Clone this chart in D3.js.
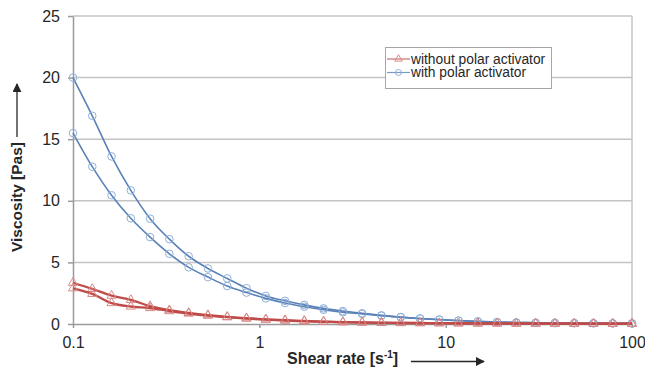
<!DOCTYPE html>
<html>
<head>
<meta charset="utf-8">
<script src="https://cdn.jsdelivr.net/npm/d3@7"></script>
<style>
  html, body { margin: 0; padding: 0; background: #fff; }
  svg { display: block; font-family: "Liberation Sans", Arial, sans-serif; }
</style>
</head>
<body>
<svg id="chart" width="645" height="369"></svg>
<script>
// ---- data ----
const shearRate = [0.1, 0.1269, 0.161, 0.2043, 0.2593, 0.329, 0.4175, 0.5298, 0.6723, 0.8532,
  1.083, 1.374, 1.743, 2.212, 2.807, 3.562, 4.521, 5.737, 7.28, 9.238,
  11.72, 14.88, 18.88, 23.95, 30.4, 38.57, 48.95, 62.12, 78.83, 100];

const withActivatorUp = [20.0, 16.9, 13.6, 10.85, 8.55, 6.89, 5.5, 4.51, 3.7, 2.91,
  2.28, 1.88, 1.55, 1.27, 1.05, 0.87, 0.7, 0.56, 0.45, 0.36,
  0.28, 0.21, 0.16, 0.12, 0.1, 0.08, 0.07, 0.06, 0.05, 0.05];
const withActivatorDown = [15.5, 12.77, 10.45, 8.58, 7.05, 5.7, 4.6, 3.81, 3.08, 2.55,
  2.08, 1.7, 1.4, 1.15, 0.95, 0.82, 0.67, 0.55, 0.44, 0.35,
  0.27, 0.2, 0.15, 0.12, 0.1, 0.08, 0.07, 0.06, 0.05, 0.05];

const withoutActivatorUp = [3.35, 2.85, 2.3, 1.95, 1.45, 1.12, 0.9, 0.72, 0.58, 0.47,
  0.38, 0.31, 0.25, 0.2, 0.16, 0.13, 0.11, 0.09, 0.08, 0.07,
  0.06, 0.05, 0.05, 0.04, 0.04, 0.03, 0.03, 0.03, 0.02, 0.02];
const withoutActivatorDown = [2.9, 2.45, 1.7, 1.42, 1.3, 1.05, 0.85, 0.68, 0.55, 0.44,
  0.35, 0.28, 0.22, 0.18, 0.14, 0.11, 0.09, 0.08, 0.07, 0.06,
  0.05, 0.04, 0.04, 0.03, 0.03, 0.03, 0.02, 0.02, 0.02, 0.02];

const xTicks = [0.1, 1, 10, 100];
const xTickLabels = ["0.1", "1", "10", "100"];
const yTicks = [0, 5, 10, 15, 20, 25];
const legendLabels = ["without polar activator", "with polar activator"];

// ---- layout ----
const svg = d3.select("#chart");
const pLeft = 73, pRight = 632, pTop = 16, pBottom = 324;
const x = d3.scaleLog().domain([0.1, 100]).range([pLeft, pRight]);
const y = d3.scaleLinear().domain([0, 25]).range([pBottom, pTop]);

const gridColor = "#c4c4c4";
const axisColor = "#9a9a9a";
const textColor = "#262626";
const blueLine = "#5a82b8", blueMark = "#8fb0d8";
const redLine = "#bf4b48", redMark = "#d98a88";

// gridlines
svg.append("g").selectAll("line").data(yTicks.filter(d => d > 0)).join("line")
  .attr("x1", pLeft).attr("x2", pRight)
  .attr("y1", d => y(d)).attr("y2", d => y(d))
  .attr("stroke", gridColor).attr("stroke-width", 1.5);
// right border
svg.append("line").attr("x1", pRight).attr("x2", pRight).attr("y1", pTop).attr("y2", pBottom)
  .attr("stroke", gridColor).attr("stroke-width", 1.5);

// axes
const yAxis = d3.axisLeft(y).tickValues(yTicks).tickSize(5).tickPadding(8).tickSizeOuter(0);
const gy = svg.append("g").attr("transform", `translate(${pLeft},0)`).call(yAxis);
const xAxis = d3.axisBottom(x).tickValues(xTicks).tickSize(4).tickPadding(9).tickSizeOuter(0)
  .tickFormat((d, i) => xTickLabels[i]);
const gx = svg.append("g").attr("transform", `translate(0,${pBottom})`).call(xAxis);
[gx, gy].forEach(g => {
  g.select(".domain").attr("stroke", axisColor).attr("stroke-width", 1.5);
  g.selectAll(".tick line").attr("stroke", axisColor).attr("stroke-width", 1.5);
  g.selectAll(".tick text").attr("fill", textColor).attr("font-size", 16)
    .attr("font-family", "Liberation Sans, Arial, sans-serif");
});

// series
const line = d3.line().x(d => x(d[0])).y(d => y(d[1])).curve(d3.curveMonotoneX);
const series = [
  { vals: withActivatorUp, color: blueLine, mark: blueMark, sym: "circle", w: 1.6 },
  { vals: withActivatorDown, color: blueLine, mark: blueMark, sym: "circle", w: 1.6 },
  { vals: withoutActivatorUp, color: redLine, mark: redMark, sym: "triangle", w: 2.3 },
  { vals: withoutActivatorDown, color: redLine, mark: redMark, sym: "triangle", w: 2.3 }
];
const triangle = d3.symbol().type(d3.symbolTriangle).size(36);
series.forEach(s => {
  const pts = shearRate.map((r, i) => [r, s.vals[i]]);
  svg.append("path").datum(pts).attr("d", line)
    .attr("fill", "none").attr("stroke", s.color).attr("stroke-width", s.w);
  const g = svg.append("g");
  if (s.sym === "circle") {
    g.selectAll("circle").data(pts).join("circle")
      .attr("cx", d => x(d[0])).attr("cy", d => y(d[1])).attr("r", 3.8)
      .attr("fill", "none").attr("stroke", s.mark).attr("stroke-width", 1);
  } else {
    g.selectAll("path").data(pts).join("path")
      .attr("d", triangle)
      .attr("transform", d => `translate(${x(d[0])},${y(d[1])})`)
      .attr("fill", "none").attr("stroke", s.mark).attr("stroke-width", 1);
  }
});

// legend
const lg = svg.append("g");
lg.append("rect").attr("x", 385.5).attr("y", 47.5).attr("width", 166).attr("height", 41)
  .attr("fill", "#fff").attr("stroke", "#a6a6a6").attr("stroke-width", 1);
const legendItems = [
  { label: legendLabels[0], color: redLine, mark: redMark, sym: "triangle" },
  { label: legendLabels[1], color: blueLine, mark: blueMark, sym: "circle" }
];
legendItems.forEach((it, i) => {
  const cy = 59 + i * 13.5;
  lg.append("line").attr("x1", 387).attr("x2", 410).attr("y1", cy).attr("y2", cy)
    .attr("stroke", it.color).attr("stroke-width", 1.2).attr("opacity", 0.8);
  if (it.sym === "circle") {
    lg.append("circle").attr("cx", 398.5).attr("cy", cy).attr("r", 3)
      .attr("fill", "none").attr("stroke", it.mark);
  } else {
    lg.append("path").attr("d", d3.symbol().type(d3.symbolTriangle).size(24))
      .attr("transform", `translate(398.5,${cy})`)
      .attr("fill", "none").attr("stroke", it.mark);
  }
  lg.append("text").attr("x", 411).attr("y", cy).attr("dy", "0.35em")
    .attr("font-size", 13.8).attr("fill", textColor).text(it.label);
});

// axis titles
const xt = svg.append("text").attr("x", 287).attr("y", 364)
  .attr("font-size", 16).attr("font-weight", "bold").attr("fill", textColor);
xt.append("tspan").text("Shear rate [s");
xt.append("tspan").attr("font-size", 10).attr("dy", -6).text("-1");
xt.append("tspan").attr("dy", 6).text("]");

svg.append("text").attr("transform", "translate(22,252) rotate(-90)")
  .attr("font-size", 15.5).attr("font-weight", "bold").attr("fill", textColor)
  .text("Viscosity [Pas]");

// arrows
const defs = svg.append("defs");
defs.append("marker").attr("id", "ah").attr("viewBox", "0 0 10 10").attr("refX", 9).attr("refY", 5)
  .attr("markerWidth", 9).attr("markerHeight", 9).attr("markerUnits", "userSpaceOnUse")
  .attr("orient", "auto")
  .append("path").attr("d", "M0,0 L10,5 L0,10 Z").attr("fill", textColor);
svg.append("line").attr("x1", 411).attr("x2", 484).attr("y1", 361.5).attr("y2", 361.5)
  .attr("stroke", textColor).attr("stroke-width", 1.3).attr("marker-end", "url(#ah)");
svg.append("line").attr("x1", 17).attr("x2", 17).attr("y1", 137).attr("y2", 84)
  .attr("stroke", textColor).attr("stroke-width", 1.3).attr("marker-end", "url(#ah)");
</script>
</body>
</html>
